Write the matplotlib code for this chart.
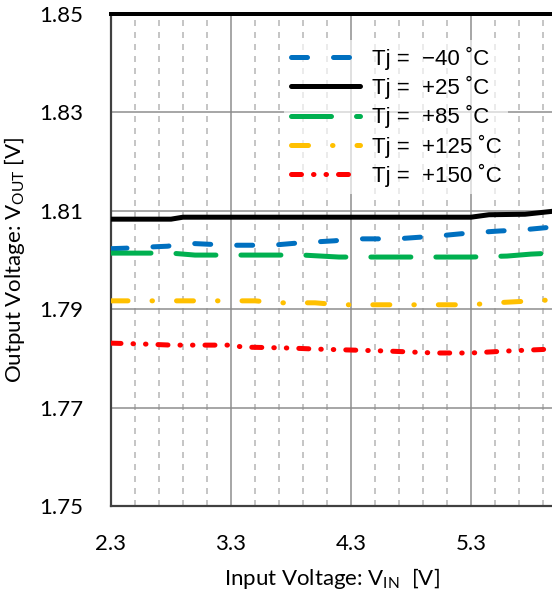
import matplotlib
matplotlib.use("Agg")
import matplotlib.pyplot as plt
import numpy as np

plt.rcParams['lines.scale_dashes'] = False
plt.rcParams['mathtext.fontset'] = 'custom'
plt.rcParams['mathtext.rm'] = 'Lato'
plt.rcParams['mathtext.it'] = 'Lato:italic'

# Data
vin_m40 = [2.3, 2.42, 2.58, 2.77, 2.94, 3.29, 3.64, 3.88, 4.16, 4.33, 4.68, 5.03, 5.29, 5.54, 5.72, 5.98]
vout_m40 = [1.8023, 1.8024, 1.8026, 1.8028, 1.8034, 1.8030, 1.8030, 1.8035, 1.8039, 1.8043, 1.8043, 1.8049, 1.8055, 1.8059, 1.8061, 1.8067]

vin_25 = [2.3, 2.8, 2.9, 5.3, 5.45, 5.75, 5.98]
vout_25 = [1.8083, 1.8083, 1.8087, 1.8087, 1.8092, 1.8093, 1.8099]

vin_85 = [2.3, 2.8, 3.0, 3.5, 3.9, 4.2, 4.5, 4.8, 5.3, 5.6, 5.8, 5.98]
vout_85 = [1.8014, 1.8014, 1.8010, 1.8010, 1.8010, 1.8006, 1.8006, 1.8006, 1.8006, 1.8008, 1.8012, 1.8014]

vin_125 = [2.3, 3.0, 3.5, 3.7, 4.0, 4.2, 5.0, 5.3, 5.5, 5.98]
vout_125 = [1.7917, 1.7917, 1.7917, 1.7913, 1.7913, 1.7909, 1.7909, 1.7909, 1.7913, 1.7919]

vin_150 = [2.3, 2.6, 2.8, 3.3, 3.4, 3.8, 4.0, 4.3, 4.6, 5.0, 5.3, 5.6, 5.98]
vout_150 = [1.7831, 1.7829, 1.7827, 1.7827, 1.7823, 1.7821, 1.7819, 1.7817, 1.7815, 1.7811, 1.7811, 1.7815, 1.7819]

labels = ["Tj =  \u221240 \u02daC", "Tj =  +25 \u02daC", "Tj =  +85 \u02daC", "Tj =  +125 \u02daC", "Tj =  +150 \u02daC"]
colors = ["#0070C0", "#000000", "#00B050", "#FFC000", "#FF0000"]

xticks = [2.3, 3.3, 4.3, 5.3]
yticks = [1.75, 1.77, 1.79, 1.81, 1.83, 1.85]

fig = plt.figure(figsize=(5.52, 5.96), dpi=100)
ax = fig.add_axes([111/552, 1-506/596, 1-111/552, (506-14)/596])

px = 0.72
styles = [
    dict(dashes=(16*px, 26*px)),
    dict(linestyle='-'),
    dict(dashes=(40*px, 25*px)),
    dict(dashes=(17*px, 24*px, 0.5*px, 24*px)),
    dict(dashes=(10*px, 12*px, 0.5*px, 12*px, 0.5*px, 12*px)),
]
series = [(vin_m40, vout_m40), (vin_25, vout_25), (vin_85, vout_85), (vin_125, vout_125), (vin_150, vout_150)]
for (x, y), c, st, lab in zip(series, colors, styles, labels):
    ax.plot(x, y, color=c, lw=5*px, dash_capstyle='round', solid_capstyle='round',
            label=lab, zorder=3, **st)

ax.set_xlim(2.3, 2.3 + 441/120)
ax.set_ylim(1.75, 1.85)
ax.set_xticks(xticks)
ax.set_yticks(yticks)
ax.set_xticks(np.arange(2.5, 6.0, 0.2), minor=True)
ax.grid(True, which='major', color='#8c8c8c', lw=1.5*px, zorder=1)
ax.grid(True, which='minor', axis='x', color='#b4b4b4', lw=1.5*px, linestyle=(0, (6*px, 6*px)), zorder=1)
ax.tick_params(which='both', length=0)
ax.tick_params(axis='y', pad=20)
ax.tick_params(axis='x', pad=20)
for lab in ax.get_xticklabels() + ax.get_yticklabels():
    lab.set_fontfamily('Lato')
    lab.set_fontsize(16)
    lab.set_color('#000000')

ax.spines['right'].set_visible(False)
ax.spines['left'].set_color('#404040')
ax.spines['left'].set_linewidth(2.2*px)
ax.spines['bottom'].set_color('#404040')
ax.spines['bottom'].set_linewidth(2.2*px)
ax.spines['top'].set_color('#000000')
ax.spines['top'].set_linewidth(4*px)

ax.set_xlabel("Input Voltage: V$_{\\mathrm{IN}}$  [V]", fontfamily='Lato', fontsize=16, labelpad=9)
ax.set_ylabel("Output Voltage: V$_{\\mathrm{OUT}}$ [V]", fontfamily='Lato', fontsize=16, labelpad=9)

leg = ax.legend(loc='upper left', bbox_to_anchor=(284/552, 1-40/596), bbox_transform=fig.transFigure,
                prop={'family': 'Liberation Sans', 'size': 16}, handlelength=3.1, handletextpad=0.55,
                labelspacing=0.28, frameon=True, framealpha=0.65, edgecolor='none', fancybox=False,
                borderpad=0.3, borderaxespad=0)
leg.set_zorder(5)

fig.savefig("out.png", dpi=100)
